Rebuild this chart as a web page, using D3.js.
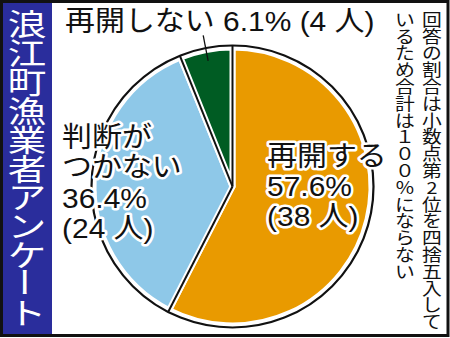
<!DOCTYPE html>
<html>
<head>
<meta charset="utf-8">
<script src="https://cdn.jsdelivr.net/npm/d3@7"></script>
<style>
  body { margin: 0; background: #fff; }
  text { font-family: "Liberation Sans", "Noto Sans CJK JP", sans-serif; }
</style>
</head>
<body>
<svg id="chart" width="450" height="338"></svg>
<script>
// data
const categories = ["再開する", "判断がつかない", "再開しない"];
const shares = [57.6, 36.4, 6.1];
const counts = [38, 24, 4];
const sliceColors = ["#e99a00", "#8ec8e8", "#005c23"];
const labelLines = [["再開する"], ["判断が", "つかない"], ["再開しない"]];
const title = "浪江町漁業者アンケート";
const noteCols = ["回答の割合は小数点第2位を四捨五入して", "いるため合計は１００％にならない"];

const W = 450, H = 338;
const svg = d3.select("svg#chart");

// frame + title band
svg.append("rect")
   .attr("x", 1.5).attr("y", 1.5)
   .attr("width", W - 3.5).attr("height", H - 4)
   .attr("fill", "#fff")
   .attr("stroke", "#111")
   .attr("stroke-width", 3);
svg.append("rect")
   .attr("x", 3).attr("y", 3)
   .attr("width", 49).attr("height", H - 7)
   .attr("fill", "#2a2d9c");

// vertical text, one glyph per text element
function verticalText(str, x, y0, step, size, sx, sy, color) {
  const chars = Array.from(str);
  const y = d3.scaleLinear().domain([0, 1]).range([y0, y0 + step]);
  const g = svg.append("g");
  chars.forEach(function (c, i) {
    let t = "translate(" + x + "," + y(i) + ") scale(" + sx + "," + sy + ")";
    if (c === "ー") t += " rotate(90)";
    g.append("text")
     .attr("transform", t)
     .attr("text-anchor", "middle")
     .attr("dominant-baseline", "central")
     .attr("font-size", size)
     .attr("fill", color)
     .style("font-family", "'Noto Sans CJK JP', sans-serif")
     .text(c);
  });
}

verticalText(title, 27, 22, 28.9, 35, 1.1, 0.86, "#fff");
verticalText(noteCols[0], 432, 18.5, 16.8, 18, 1.1, 0.92, "#111");
verticalText(noteCols[1], 405, 18.5, 16.8, 18, 1.1, 0.92, "#111");

// pie
const cx = 232.5, cy = 186.5, R = 141;
const pie = d3.pie().sort(null).value(d => d);
const arcs = pie(shares);
const arc = d3.arc().innerRadius(0).outerRadius(R - 2);

const g = svg.append("g").attr("transform", "translate(" + cx + "," + cy + ")");
g.append("circle").attr("r", R).attr("fill", "#fff");
g.selectAll("path.slice")
 .data(arcs)
 .join("path")
 .attr("class", "slice")
 .attr("d", arc)
 .attr("fill", (d, i) => sliceColors[i])
 .attr("stroke", "#fff")
 .attr("stroke-width", 6)
 .attr("stroke-linejoin", "round");
g.append("circle").attr("r", R).attr("fill", "none")
 .attr("stroke", "#111").attr("stroke-width", 2.2);
g.selectAll("line.sep")
 .data(arcs)
 .join("line")
 .attr("class", "sep")
 .attr("x1", 0).attr("y1", 0)
 .attr("x2", d => R * Math.sin(d.startAngle))
 .attr("y2", d => -R * Math.cos(d.startAngle))
 .attr("stroke", "#111")
 .attr("stroke-width", 2);

// leader for the small slice
const small = arcs[2];
const mid = (small.startAngle + small.endAngle) / 2;
g.append("line")
 .attr("x1", 154 * Math.sin(mid)).attr("y1", -154 * Math.cos(mid))
 .attr("x2", 128 * Math.sin(mid)).attr("y2", -128 * Math.cos(mid))
 .attr("stroke", "#111").attr("stroke-width", 1.3);

// labels
const sx = 1.07;
function label(lines, x, y0, step) {
  const t = svg.append("g").attr("transform", "translate(" + x + ",0) scale(" + sx + ",1)");
  lines.forEach(function (s, i) {
    t.append("text")
     .attr("x", 0).attr("y", y0 + i * step)
     .attr("font-size", 28)
     .attr("fill", "#111")
     .attr("stroke", "#fff").attr("stroke-width", 5)
     .attr("stroke-linejoin", "round")
     .attr("paint-order", "stroke")
     .text(s);
  });
}
const pct = i => shares[i].toFixed(1) + "%";
const ppl = i => "(" + counts[i] + " 人)";

label([labelLines[0][0], pct(0), ppl(0)], 267, 166, 30);
label([labelLines[1][0], labelLines[1][1], pct(1), ppl(1)], 62, 147, 30.3);
label([labelLines[2][0] + " " + pct(2) + " " + ppl(2)], 65, 31.5, 0);
</script>
</body>
</html>
